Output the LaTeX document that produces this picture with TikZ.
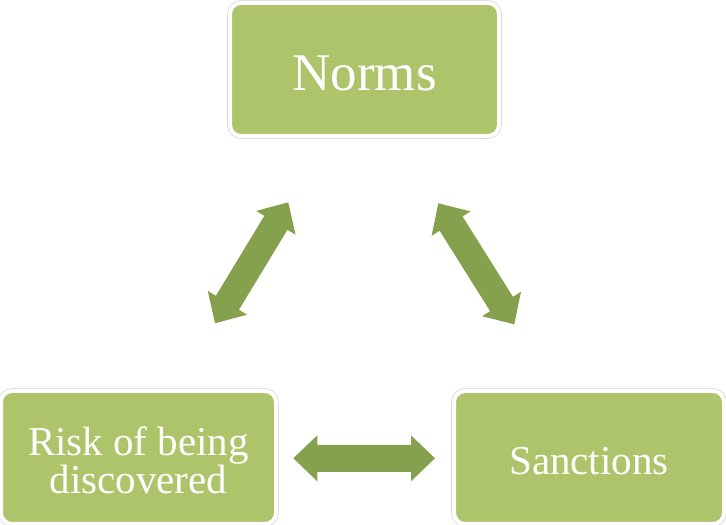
\documentclass[tikz,border=0pt]{standalone}
\usepackage{fontspec}
\setmainfont{Liberation Serif}
\usetikzlibrary{calc}
\definecolor{boxgreen}{RGB}{173,196,106}
\definecolor{arrowgreen}{RGB}{134,161,77}
\tikzset{
  box/.style={rectangle, rounded corners=11pt, fill=boxgreen, draw=white, line width=4pt,
    preaction={draw=black!14, line width=5.6pt},
    minimum height=133pt, inner sep=0pt},
  txt/.style={inner sep=0pt, text=white, align=center},
  bigtext/.style={font=\fontsize{53}{58}\selectfont},
  smalltext/.style={font=\fontsize{41}{37.5}\selectfont},
  arrowshape/.style={fill=arrowgreen}
}
\newcommand\blockarrow[2]{%
  \fill[arrowshape] let \p1=($(#2)-(#1)$), \n1={atan2(\y1,\x1)}, \n2={veclen(\x1,\y1)} in
    [shift={(#1)}, rotate=\n1]
    (0,0) -- (24pt,23pt) -- (24pt,13.5pt) -- ({\n2-24pt},13.5pt) -- ({\n2-24pt},23pt)
    -- ({\n2},0pt) -- ({\n2-24pt},-23pt) -- ({\n2-24pt},-13.5pt) -- (24pt,-13.5pt)
    -- (24pt,-23pt) -- cycle;}
\begin{document}
\begin{tikzpicture}[x=1pt,y=1pt]
\useasboundingbox (0,0) rectangle (726,525);
\node[box, minimum width=269pt] (norms) at (364.5,455.5) {};
\node[box, minimum width=275pt] (risk) at (138.5,67.5) {};
\node[box, minimum width=270pt] (sanc) at (589,67.5) {};
\node[txt, bigtext] (normst) at ([yshift=-4pt]norms.center) {Norms};
\node[txt, smalltext] (riskt) at ([yshift=-3pt]risk.center) {Risk of being\\discovered};
\node[txt, smalltext] (sanct) at ([yshift=-4pt]sanc.center) {Sanctions};
\coordinate (a1) at (215,201.7);
\coordinate (b1) at (288.3,322.7);
\coordinate (a2) at (438.3,321.7);
\coordinate (b2) at (514.3,200.7);
\coordinate (a3) at (293.3,66.7);
\coordinate (b3) at (435,66.7);
\blockarrow{a1}{b1}
\blockarrow{a2}{b2}
\blockarrow{a3}{b3}
\end{tikzpicture}
\end{document}
